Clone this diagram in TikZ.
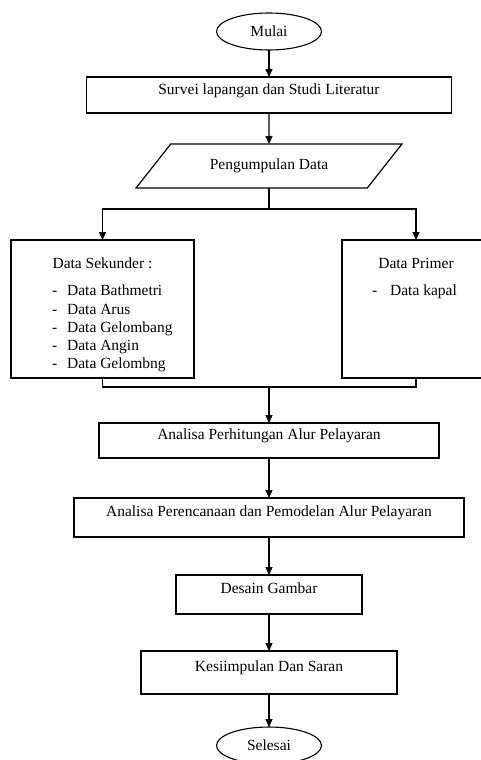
\documentclass[tikz,border=0pt]{standalone}
\usepackage{fontspec}
\setmainfont{Liberation Serif}
\usetikzlibrary{shapes.geometric, arrows.meta, positioning}

\begin{document}
\begin{tikzpicture}[
        x=1pt, y=-1pt,
        font=\fontsize{15.5}{18.3}\selectfont,
        terminal/.style={ellipse, draw=black, line width=1.1pt, minimum width=105pt, minimum height=37pt, inner sep=0pt, outer sep=0pt},
        box/.style={rectangle, draw=black, line width=1.2pt, align=center, text depth=12pt, inner sep=0pt, outer sep=0pt},
        sidebox/.style={rectangle, draw=black, line width=1.2pt, inner sep=0pt, outer sep=0pt},
        io/.style={trapezium, trapezium left angle=34, trapezium right angle=146, trapezium stretches=true, draw=black, line width=1.2pt, minimum width=266pt, minimum height=44pt, inner sep=0pt, outer sep=0pt},
        arrow/.style={-{Triangle[width=7pt, length=8pt]}, line width=1.2pt},
        line/.style={line width=1.2pt}
    ]
    \useasboundingbox (0,0) rectangle (481,760);
    \node[terminal] (mulai) at (269,31.5) {Mulai};
    \node[box, below=27pt of mulai, minimum width=365pt, minimum height=36pt] (survei) {Survei lapangan dan Studi Literatur};
    \node[io, below=31pt of survei] (data) {Pengumpulan Data};
    \node[sidebox, below=52pt of data, xshift=-166.5pt] (sekunder) {\parbox[c][138pt][t]{183pt}{\vspace*{18pt}\centering Data Sekunder :\par\vspace{8.7pt}\raggedright\leftskip=41pt
        -\hspace{10pt}Data Bathmetri\\
        -\hspace{10pt}Data Arus\\
        -\hspace{10pt}Data Gelombang\\
        -\hspace{10pt}Data Angin\\
        -\hspace{10pt}Data Gelombng}};
    \node[sidebox, below=52pt of data, xshift=147pt] (primer) {\parbox[c][138pt][t]{148pt}{\vspace*{18pt}\centering Data Primer\par\vspace{8.7pt}\raggedright\leftskip=30pt
        -\hspace{13pt}Data kapal}};
    \node[box, below=235pt of data, minimum width=340pt, minimum height=35pt] (perhitungan) {Analisa Perhitungan Alur Pelayaran};
    \node[box, below=40pt of perhitungan, minimum width=390pt, minimum height=39pt] (perencanaan) {Analisa Perencanaan dan Pemodelan Alur Pelayaran};
    \node[box, below=38pt of perencanaan, minimum width=186pt, minimum height=39pt] (desain) {Desain Gambar};
    \node[box, below=37pt of desain, minimum width=256pt, minimum height=43pt] (kesimpulan) {Kesiimpulan Dan Saran};
    \node[terminal, below=33pt of kesimpulan] (selesai) {Selesai};

    \draw[arrow] (mulai) -- (survei);
    \draw[arrow] (survei) -- (data);
    \draw[line] (data.south) -- ++(0,21) coordinate (split);
    \draw[arrow] (split) -| (sekunder.north);
    \draw[arrow] (split) -| (primer.north);
    \draw[line] (sekunder.south) -- ++(0,9) coordinate (merge) -| (primer.south);
    \draw[arrow] (merge -| perhitungan.north) -- (perhitungan);
    \draw[arrow] (perhitungan) -- (perencanaan);
    \draw[arrow] (perencanaan) -- (desain);
    \draw[arrow] (desain) -- (kesimpulan);
    \draw[arrow] (kesimpulan) -- (selesai);
\end{tikzpicture}
\end{document}
